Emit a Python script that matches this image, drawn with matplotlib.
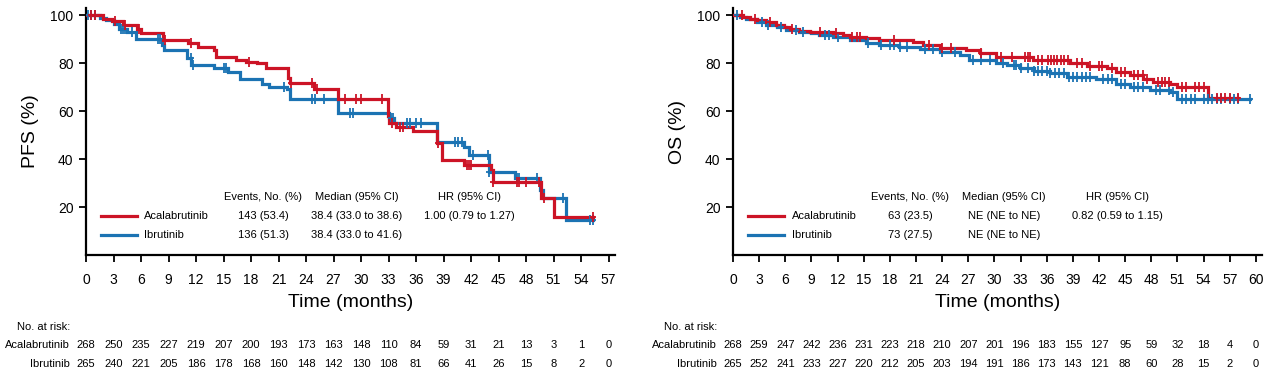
import numpy as np
import matplotlib
matplotlib.use("Agg")
import matplotlib.pyplot as plt
from matplotlib.lines import Line2D
from matplotlib.transforms import blended_transform_factory

# ---------------- data ----------------
arms = ["Acalabrutinib", "Ibrutinib"]
colors = ["#cc1426", "#1b73b3"]

# PFS step curves
pfs_acala_t = [0, 1.8, 2.8, 4.0, 5.6, 6.0, 8.4, 11.1, 12.2, 14.0, 14.2, 16.4, 17.5, 18.6, 19.6,
               22.0, 22.3, 24.9, 27.5, 32.9, 33.0, 33.8, 35.7, 38.3, 38.8, 41.2, 44.2, 44.4,
               49.6, 51.1]
pfs_acala_s = [100, 98.6, 97.5, 95.8, 94.4, 92.4, 89.6, 88.2, 86.8, 85.4, 82.6, 81.5, 80.6, 79.9, 77.8,
               74.0, 71.6, 69.4, 65.0, 58.0, 55.0, 53.5, 51.7, 46.6, 39.8, 37.5, 35.4, 30.5,
               23.6, 16.0]
pfs_acala_end = 55.3
pfs_acala_cens = [0.5, 1.0, 3.2, 4.2, 5.8, 8.6, 11.4, 17.8, 22.4, 24.6, 25.2, 28.2, 29.4, 30.0,
                  32.3, 33.4, 34.2, 34.6, 38.4, 41.6, 41.8, 42.0, 44.4, 47.0, 47.2, 48.0, 49.4,
                  50.0, 55.3]

pfs_ibru_t = [0, 1.5, 2.2, 3.0, 3.6, 4.5, 5.4, 8.3, 8.5, 11.0, 11.5, 14.0, 15.5, 16.8, 19.2, 20.0,
              21.9, 22.2, 27.5, 33.0, 33.6, 38.3, 41.2, 41.8, 44.0, 46.8, 49.5, 49.8, 52.4]
pfs_ibru_s = [100, 99.0, 97.9, 96.5, 94.4, 93.1, 90.0, 87.5, 85.4, 82.0, 79.2, 77.8, 76.4, 73.2, 71.5, 70.1,
              69.4, 65.0, 59.4, 57.0, 54.9, 47.2, 45.1, 41.7, 34.7, 32.0, 27.0, 23.6, 14.4]
pfs_ibru_end = 55.3
pfs_ibru_cens = [0.2, 0.5, 1.0, 3.8, 4.0, 4.2, 5.0, 7.8, 8.1, 11.4, 11.7, 15.0, 15.3, 21.6, 24.6,
                 25.0, 26.0, 28.8, 29.1, 33.3, 33.5, 35.0, 35.3, 36.0, 36.5, 40.2, 40.6, 41.0,
                 42.2, 43.8, 44.0, 47.0, 47.2, 49.2, 52.0, 55.0, 55.3]

# OS step curves
os_acala_t = [0, 1.2, 1.9, 2.8, 3.8, 4.9, 5.8, 6.5, 7.6, 8.8, 11.5, 12.6, 13.4, 15.3, 16.8, 20.6, 21.8,
              23.7, 26.7, 28.3, 30.2, 34.4, 38.7, 40.6, 42.9, 44.0, 45.5, 47.1, 48.2, 50.1, 50.9, 54.5]
os_acala_s = [100, 99.3, 98.6, 97.9, 97.2, 95.8, 95.1, 94.4, 93.5, 93.1, 92.6, 91.7, 90.9, 90.3, 89.6, 88.9, 87.5,
              86.5, 85.4, 84.3, 82.6, 81.25, 80.1, 78.75, 77.8, 76.4, 75.0, 73.6, 72.2, 71.5, 69.9, 65.3]
os_acala_end = 57.9
os_acala_cens = [1.0, 2.5, 4.2, 6.8, 10.0, 11.8, 13.7, 14.2, 14.6, 18.5, 22.5, 24.0, 25.0, 28.5, 30.8,
                 32.0, 33.5, 33.8, 34.1, 35.0, 35.5, 36.2, 36.5, 36.8, 37.2, 37.6, 38.0, 38.4, 39.5,
                 40.0, 41.0, 42.0, 42.3, 43.5, 44.5, 45.0, 46.0, 46.5, 47.0, 47.5, 48.8, 49.2, 49.6,
                 50.0, 51.5, 52.0, 53.0, 53.5, 54.0, 55.5, 56.0, 56.5, 57.0, 57.9]

os_ibru_t = [0, 0.8, 1.5, 2.7, 3.8, 5.0, 6.1, 7.6, 9.0, 9.9, 11.5, 13.4, 15.3, 16.8, 19.1, 21.4, 23.7,
             26.0, 27.1, 30.2, 31.4, 32.9, 34.5, 36.4, 38.3, 41.7, 44.0, 45.5, 47.8, 50.1, 50.9]
os_ibru_s = [100, 99.3, 98.6, 97.2, 95.8, 94.9, 94.0, 93.1, 92.4, 91.7, 90.7, 89.6, 88.6, 87.5, 86.8, 85.7, 84.7,
             83.3, 81.25, 80.1, 79.2, 77.8, 76.8, 75.7, 74.3, 73.2, 71.5, 70.1, 68.75, 68.1, 65.0]
os_ibru_end = 59.3
os_ibru_cens = [0.5, 3.3, 4.0, 5.5, 7.2, 8.0, 10.5, 11.0, 12.0, 15.5, 17.0, 18.0, 18.5, 19.2, 20.0,
                22.0, 23.0, 24.0, 25.5, 27.5, 28.5, 29.5, 31.0, 32.2, 32.5, 33.0, 33.8, 34.5, 35.0,
                35.5, 36.0, 36.4, 37.0, 37.4, 38.0, 38.5, 39.0, 39.5, 40.0, 40.5, 41.0, 42.5, 43.0,
                43.5, 44.5, 45.0, 46.0, 46.5, 47.0, 48.5, 49.0, 50.0, 50.5, 51.5, 52.0, 52.5, 53.0,
                54.0, 54.5, 55.0, 55.5, 56.0, 57.0, 57.5, 58.0, 59.3]

# risk tables
pfs_ticks = list(range(0, 58, 3))
pfs_risk_acala = [268, 250, 235, 227, 219, 207, 200, 193, 173, 163, 148, 110, 84, 59, 31, 21, 13, 3, 1, 0]
pfs_risk_ibru = [265, 240, 221, 205, 186, 178, 168, 160, 148, 142, 130, 108, 81, 66, 41, 26, 15, 8, 2, 0]
os_ticks = list(range(0, 61, 3))
os_risk_acala = [268, 259, 247, 242, 236, 231, 223, 218, 210, 207, 201, 196, 183, 155, 127, 95, 59, 32, 18, 4, 0]
os_risk_ibru = [265, 252, 241, 233, 227, 220, 212, 205, 203, 194, 191, 186, 173, 143, 121, 88, 60, 28, 15, 2, 0]

# summary table text
pfs_events = ["143 (53.4)", "136 (51.3)"]
pfs_median = ["38.4 (33.0 to 38.6)", "38.4 (33.0 to 41.6)"]
pfs_hr = "1.00 (0.79 to 1.27)"
os_events = ["63 (23.5)", "73 (27.5)"]
os_median = ["NE (NE to NE)", "NE (NE to NE)"]
os_hr = "0.82 (0.59 to 1.15)"

# ---------------- figure ----------------
W, H = 1269, 379
fig = plt.figure(figsize=(W / 100, H / 100), dpi=100)
REG = ["Liberation Sans", "DejaVu Sans"]
NAR = ["Liberation Sans Narrow", "Liberation Sans", "DejaVu Sans"]
FS = 8


def fx(px):
    return px / W


def fy(py):
    return 1 - py / H


def draw_curve(ax, t, s, end, cens, color):
    t = np.asarray(t, float)
    s = np.asarray(s, float)
    tt = np.append(t, end)
    ss = np.append(s, s[-1])
    ax.step(tt, ss, where="post", color=color, lw=2.3, solid_joinstyle="miter", zorder=3)
    c = np.asarray(cens, float)
    idx = np.searchsorted(t, c, side="right") - 1
    ax.plot(c, s[idx], linestyle="none", marker="|", ms=7, mew=1.3, color=color, zorder=4)
    ax.plot(c, s[idx], linestyle="none", marker="_", ms=5, mew=1.3, color=color, zorder=4)


def setup_axes(x0px, xmax, ylabel, ticks):
    ax = fig.add_axes([fx(x0px), fy(255), 529 / W, 247 / H])
    ax.set_xlim(0, xmax)
    ax.set_ylim(0, 103)
    for sp in ["top", "right"]:
        ax.spines[sp].set_visible(False)
    for sp in ["left", "bottom"]:
        ax.spines[sp].set_linewidth(1.6)
    ax.set_xticks(ticks)
    ax.set_yticks([20, 40, 60, 80, 100])
    ax.tick_params(axis="both", direction="out", length=5, width=1.3, labelsize=10, pad=4)
    ax.tick_params(axis="x", pad=8)
    for lab in ax.get_xticklabels() + ax.get_yticklabels():
        lab.set_fontfamily(REG)
    ax.set_ylabel(ylabel, fontsize=14, family=NAR, labelpad=8)
    ax.set_xlabel("Time (months)", fontsize=14, family=NAR, labelpad=5)
    return ax


def summary(x_line0, x_lab, x_ev, x_med, x_hr, events, medians, hr):
    fig.text(fx(x_ev), fy(197), "Events, No. (%)", ha="center", va="center", fontsize=FS, family=REG)
    fig.text(fx(x_med), fy(197), "Median (95% CI)", ha="center", va="center", fontsize=FS, family=REG)
    fig.text(fx(x_hr), fy(197), "HR (95% CI)", ha="center", va="center", fontsize=FS, family=REG)
    for i, (arm, col) in enumerate(zip(arms, colors)):
        yy = 216 + 19 * i
        fig.add_artist(Line2D([fx(x_line0), fx(x_line0 + 36)], [fy(yy), fy(yy)], color=col, lw=2.3,
                              transform=fig.transFigure))
        fig.text(fx(x_lab), fy(yy), arm, ha="left", va="center", fontsize=FS, family=REG)
        fig.text(fx(x_ev), fy(yy), events[i], ha="center", va="center", fontsize=FS, family=REG)
        fig.text(fx(x_med), fy(yy), medians[i], ha="center", va="center", fontsize=FS, family=REG)
    fig.text(fx(x_hr), fy(216), hr, ha="center", va="center", fontsize=FS, family=REG)


def risk_table(ax, lab_right_px, ticks, r1, r2):
    fig.text(fx(lab_right_px), fy(327), "No. at risk:", ha="right", va="center", fontsize=FS, family=REG)
    fig.text(fx(lab_right_px), fy(345), arms[0], ha="right", va="center", fontsize=FS, family=REG)
    fig.text(fx(lab_right_px), fy(364), arms[1], ha="right", va="center", fontsize=FS, family=REG)
    tr = blended_transform_factory(ax.transData, fig.transFigure)
    for t, a, b in zip(ticks, r1, r2):
        ax.text(t, fy(345), str(a), transform=tr, ha="center", va="center", fontsize=FS, family=REG,
                clip_on=False)
        ax.text(t, fy(364), str(b), transform=tr, ha="center", va="center", fontsize=FS, family=REG,
                clip_on=False)


# PFS panel
ax1 = setup_axes(86, 57.7, "PFS (%)", pfs_ticks)
draw_curve(ax1, pfs_ibru_t, pfs_ibru_s, pfs_ibru_end, pfs_ibru_cens, colors[1])
draw_curve(ax1, pfs_acala_t, pfs_acala_s, pfs_acala_end, pfs_acala_cens, colors[0])
summary(101, 144, 263, 357, 469, pfs_events, pfs_median, pfs_hr)
risk_table(ax1, 70, pfs_ticks, pfs_risk_acala, pfs_risk_ibru)

# OS panel
ax2 = setup_axes(733, 60.7, "OS (%)", os_ticks)
draw_curve(ax2, os_ibru_t, os_ibru_s, os_ibru_end, os_ibru_cens, colors[1])
draw_curve(ax2, os_acala_t, os_acala_s, os_acala_end, os_acala_cens, colors[0])
summary(748, 792, 910, 1004, 1117, os_events, os_median, os_hr)
risk_table(ax2, 717, os_ticks, os_risk_acala, os_risk_ibru)

fig.savefig("out.png", dpi=100)
